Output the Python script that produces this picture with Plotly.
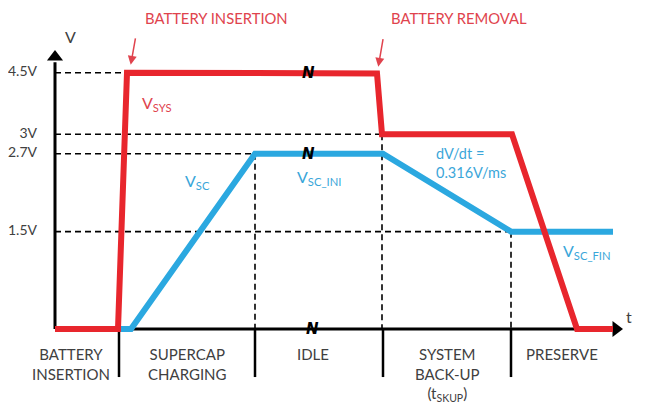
import plotly.graph_objects as go

# ---------------- data (schematic time units, volts) ----------------
t_sys = [0, 6.3, 7.2, 32.2, 32.7, 45.7, 52.2, 55.8]
v_sys = [0, 0, 4.5, 4.48, 3.0, 3.0, 0, 0]

t_sc = [6.4, 7.6, 20.0, 32.8, 45.6, 55.8]
v_sc = [0, 0, 2.7, 2.7, 1.5, 1.5]

level_vals = [4.5, 3.0, 2.7, 1.5]
level_labels = ["4.5V", "3V", "2.7V", "1.5V"]
level_ends = [7.2, 32.7, 20.0, 45.6]       # time where each guide meets the curve

drop_times = [20.0, 32.7, 45.6]            # vertical guides
drop_vals = [2.7, 3.0, 1.5]

phase_bounds = [6.4, 20.0, 32.8, 45.6]
phase_names = ["BATTERY<br>INSERTION", "SUPERCAP<br>CHARGING", "IDLE",
               "SYSTEM<br>BACK-UP<br>(t<sub>SKUP</sub>)", "PRESERVE"]
phase_centers = [1.6, 13.2, 25.8, 39.2, 50.7]

RED = "#e8262d"
RED_TXT = "#e0434d"
BLUE = "#2ba8e0"
BLUE_TXT = "#3aa6d9"
GREY = "#404040"
FONT = "Lato"


def disp(v):
    """schematic (compressed) vertical scale above 3 V"""
    return v if v <= 3 else 3 + (v - 3) * 0.633


fig = go.Figure()

# axes
y_top = 4.11
x_end = 55.7
fig.add_trace(go.Scatter(x=[0, 0, None, 0, x_end], y=[0, y_top, None, 0, 0],
                         mode="lines", line=dict(color="black", width=3),
                         hoverinfo="skip", showlegend=False))
# arrowheads
fig.add_trace(go.Scatter(x=[0], y=[4.19], mode="markers",
                         marker=dict(symbol="triangle-up", size=14, color="black"),
                         hoverinfo="skip", showlegend=False, cliponaxis=False))
fig.add_trace(go.Scatter(x=[56.1], y=[0], mode="markers",
                         marker=dict(symbol="triangle-right", size=14, color="black"),
                         hoverinfo="skip", showlegend=False, cliponaxis=False))

# phase boundary ticks below the time axis
bx, by = [], []
for b in phase_bounds:
    bx += [b, b, None]
    by += [0, -0.74, None]
fig.add_trace(go.Scatter(x=bx, y=by, mode="lines", line=dict(color="black", width=2.5),
                         hoverinfo="skip", showlegend=False))

# dashed guides
gx, gy = [], []
for v, e in zip(level_vals, level_ends):
    gx += [0, e, None]
    gy += [disp(v), disp(v), None]
for t, v in zip(drop_times, drop_vals):
    gx += [t, t, None]
    gy += [disp(v), 0, None]
fig.add_trace(go.Scatter(x=gx, y=gy, mode="lines",
                         line=dict(color="black", width=1.6, dash="6px,4px"),
                         hoverinfo="skip", showlegend=False))

# curves
fig.add_trace(go.Scatter(x=t_sc, y=[disp(v) for v in v_sc], mode="lines",
                         line=dict(color=BLUE, width=6), name="VSC", showlegend=False))
fig.add_trace(go.Scatter(x=t_sys, y=[disp(v) for v in v_sys], mode="lines",
                         line=dict(color=RED, width=6), name="VSYS", showlegend=False))

# y tick labels
fig.add_trace(go.Scatter(x=[-1.8] * len(level_vals), y=[disp(v) for v in level_vals],
                         mode="text", text=level_labels, textposition="middle left",
                         textfont=dict(family=FONT, size=14, color=GREY),
                         hoverinfo="skip", showlegend=False, cliponaxis=False))

ann = []


def txt(x, y, s, color=GREY, size=14, xanchor="center", yanchor="middle", align="center",
        family=FONT):
    ann.append(dict(x=x, y=y, text=s, showarrow=False, xanchor=xanchor, yanchor=yanchor,
                    align=align, font=dict(family=family, size=size, color=color)))


# phase labels
for c, n in zip(phase_centers, phase_names):
    txt(c, -0.22, n, yanchor="top", size=15)

# axis labels
txt(1.5, 4.50, "V", size=16)
txt(57.4, 0.19, "t", size=16)

# event labels
txt(16.1, 4.79, "BATTERY INSERTION", color=RED_TXT, size=14.8)
txt(40.4, 4.79, "BATTERY REMOVAL", color=RED_TXT, size=14.8)

# curve labels
txt(10.2, 3.48, "V<sub>SYS</sub>", color=RED_TXT, size=16)
txt(14.2, 2.28, "V<sub>SC</sub>", color=BLUE_TXT, size=16)
txt(26.4, 2.33, "V<sub>SC_INI</sub>", color=BLUE_TXT, size=16)
txt(53.2, 1.20, "V<sub>SC_FIN</sub>", color=BLUE_TXT, size=16)
txt(37.9, 2.56, "dV/dt =<br>0.316V/ms", color=BLUE_TXT, size=14.5, xanchor="left", align="left")

# break marks
for bxm, bym in [(25.3, disp(4.49)), (25.3, disp(2.7)), (25.7, 0)]:
    txt(bxm, bym, "<b><i>N</i></b>", color="black", size=15, family="DejaVu Sans")

# event arrows
for tip, tail in [((7.57, 4.07), (8.07, 4.50)), ((32.33, 4.04), (32.83, 4.49))]:
    ann.append(dict(x=tip[0], y=tip[1], ax=tail[0], ay=tail[1], axref="x", ayref="y",
                    xref="x", yref="y", showarrow=True, arrowhead=2, arrowsize=1.2,
                    arrowwidth=1.5, arrowcolor=RED_TXT, text=""))

# the page places the figure 8 px from the window's top-left corner
fig.update_layout(
    width=637, height=400,
    margin=dict(l=0, r=0, t=0, b=0),
    paper_bgcolor="white", plot_bgcolor="white",
    xaxis=dict(range=[-4.7, 59.0], visible=False, fixedrange=True),
    yaxis=dict(range=[-1.217, 4.946], visible=False, fixedrange=True),
    annotations=ann,
    font=dict(family=FONT),
)

fig.write_html("out.html")
